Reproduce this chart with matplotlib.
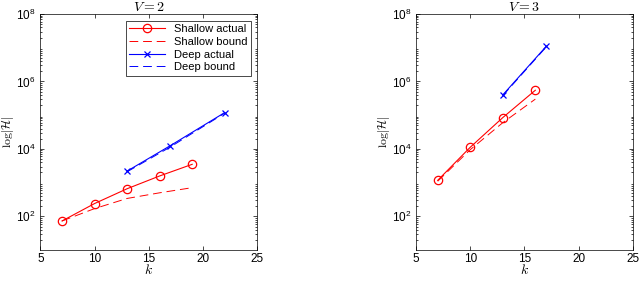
import matplotlib
matplotlib.use("Agg")
import matplotlib.pyplot as plt
from matplotlib.ticker import LogLocator, NullFormatter

plt.rcParams["font.family"] = ["Liberation Sans", "DejaVu Sans"]
plt.rcParams["mathtext.fontset"] = "cm"

# V = 2
k2_shallow = [7, 10, 13, 16, 19]
v2_shallow_actual = [73, 240, 660, 1580, 3500]
v2_shallow_bound = [73, 170, 340, 500, 710]
k2_deep = [13, 17, 22]
v2_deep_actual = [2200, 12600, 120000]
v2_deep_bound = [2100, 11500, 115000]

# V = 3
k3_shallow = [7, 10, 13, 16]
v3_shallow_actual = [1170, 11200, 85000, 550000]
v3_shallow_bound = [1100, 9500, 60000, 300000]
k3_deep = [13, 17]
v3_deep_actual = [400000, 1.1e7]
v3_deep_bound = [380000, 1.05e7]

panels = [
    ("$V = 2$", k2_shallow, v2_shallow_actual, v2_shallow_bound,
     k2_deep, v2_deep_actual, v2_deep_bound, True),
    ("$V = 3$", k3_shallow, v3_shallow_actual, v3_shallow_bound,
     k3_deep, v3_deep_actual, v3_deep_bound, False),
]

fig = plt.figure(figsize=(6.4, 2.81), dpi=100)
lefts = [0.063, 0.650]

for left, (title, ks, sa, sb, kd, da, db, leg) in zip(lefts, panels):
    ax = fig.add_axes([left, 0.11, 0.339, 0.84])
    ax.plot(ks, sa, "-o", color="red", lw=0.8, ms=6, mfc="none", mew=0.9,
            label="Shallow actual")
    ax.plot(ks, sb, "--", color="red", lw=0.7, dashes=(9, 5),
            label="Shallow bound")
    ax.plot(kd, da, "-x", color="blue", lw=0.8, ms=4, mew=0.9,
            label="Deep actual")
    ax.plot(kd, db, "--", color="blue", lw=0.7, dashes=(9, 5),
            label="Deep bound")
    ax.set_yscale("log")
    ax.set_xlim(5, 25)
    ax.set_ylim(10, 1e8)
    ax.set_xticks([5, 10, 15, 20, 25])
    ax.set_yticks([1e2, 1e4, 1e6, 1e8])
    ax.yaxis.set_minor_locator(LogLocator(base=10, subs=range(2, 10), numticks=20))
    ax.yaxis.set_minor_formatter(NullFormatter())
    ax.tick_params(which="both", direction="in", top=True, right=True,
                   labelsize=8.5, width=0.5)
    ax.tick_params(which="major", length=3)
    ax.tick_params(which="minor", length=1.5)
    ax.tick_params(axis="x", pad=2)
    for s in ax.spines.values():
        s.set_linewidth(0.5)
    ax.set_title(title, fontsize=10, pad=2)
    ax.set_xlabel("$k$", fontsize=10, labelpad=-1)
    ax.set_ylabel(r"$\log|\mathcal{H}|$", fontsize=8.5, labelpad=0)
    if leg:
        lg = ax.legend(loc="upper right", fontsize=8, fancybox=False,
                       edgecolor="black", framealpha=1, handlelength=3.2,
                       borderaxespad=0.6, labelspacing=0.25, borderpad=0.3)
        lg.get_frame().set_linewidth(0.5)

fig.savefig("out.png", dpi=100)
